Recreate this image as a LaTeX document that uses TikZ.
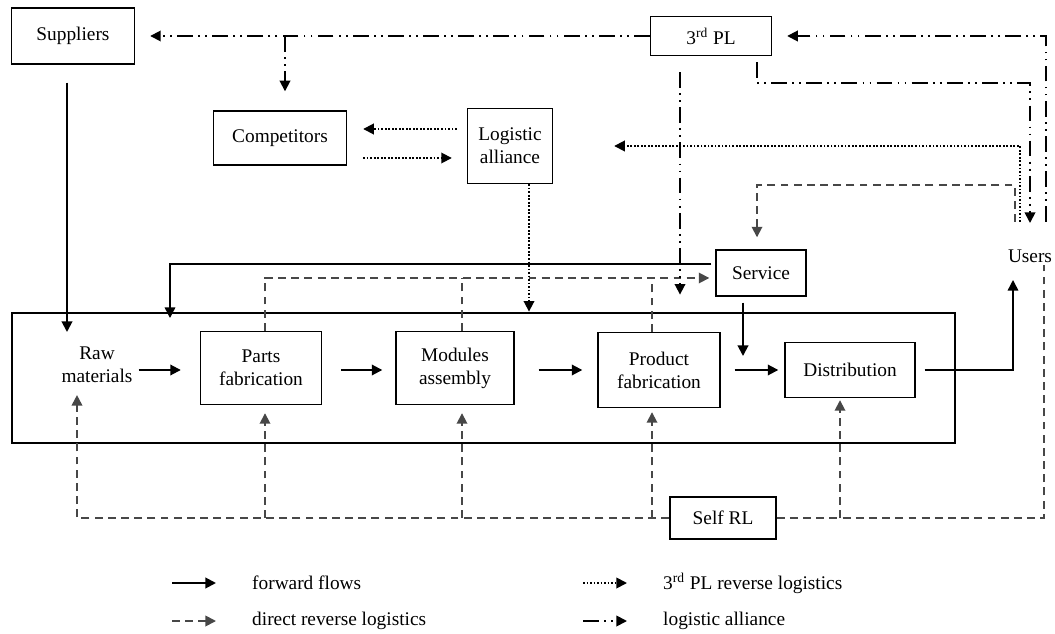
\documentclass[tikz,border=0pt]{standalone}
\usepackage{fontspec}
\setmainfont{Liberation Serif}
\usetikzlibrary{arrows.meta}

\begin{document}
\begin{tikzpicture}[
        font=\fontsize{11}{13}\selectfont,
        blk/.style={draw, rectangle, line width=0.8pt, align=center, inner sep=2pt},
        flow/.style={-{Triangle[length=6pt,width=6pt]}, line width=1.1pt},
        direct/.style={-{Triangle[length=6pt,width=6pt]}, line width=1pt, black!72, dash pattern=on 4.5pt off 3pt},
        tpl/.style={-{Triangle[length=6pt,width=6pt]}, line width=1pt, dash pattern=on 1pt off 1pt},
        alli/.style={-{Triangle[length=6pt,width=6pt]}, line width=1pt, dash pattern=on 9pt off 3pt on 1pt off 3pt on 1pt off 3pt}
    ]
        \useasboundingbox (0,0) rectangle (21.1,-12.68);

        % actors around the chain
        \node[blk, minimum width=2.46cm, minimum height=1.12cm] (suppliers) at (1.46,-0.72) {Suppliers};
        \node[blk, minimum width=2.42cm, minimum height=0.78cm] (tpl) at (14.22,-0.72) {3\textsuperscript{rd} PL};
        \node[blk, minimum width=2.66cm, minimum height=1.08cm] (competitors) at (5.6,-2.76) {Competitors};
        \node[blk, minimum width=1.7cm, minimum height=1.5cm] (alliance) at (10.2,-2.92) {Logistic\\alliance};
        \node[blk, minimum width=1.8cm, minimum height=0.92cm] (service) at (15.22,-5.46) {Service};
        \node (users) at (20.6,-5.12) {Users};

        % internal chain
        \node[draw, line width=1.6pt, minimum width=18.86cm, minimum height=2.6cm] (chain) at (9.67,-7.56) {};
        \node[align=center] (raw) at (1.94,-7.3) {Raw\\materials};
        \node[blk, minimum width=2.42cm, minimum height=1.46cm] (parts) at (5.22,-7.36) {Parts\\fabrication};
        \node[blk, minimum width=2.36cm, minimum height=1.46cm] (modules) at (9.1,-7.36) {Modules\\assembly};
        \node[blk, minimum width=2.44cm, minimum height=1.5cm] (product) at (13.18,-7.4) {Product\\fabrication};
        \node[blk, minimum width=2.6cm, minimum height=1.1cm] (distribution) at (17.0,-7.4) {Distribution};
        \node[blk, minimum width=2.12cm, minimum height=0.84cm] (selfrl) at (14.46,-10.36) {Self RL};

        \coordinate (rawin) at (1.34,-6.64);
        \coordinate (srvin) at (3.4,-6.36);
        \coordinate (dstin) at (14.86,-7.12);
        \coordinate (brk) at (5.7,-0.72);
        \coordinate (dline) at ([yshift=-0.1cm]service.west);

        % forward flows
        \draw[flow, shorten <=0.36cm] (suppliers.south -| rawin) -- (rawin);
        \foreach \src/\dest/\sa/\sb in {raw/parts/0.0cm/0.38cm, parts/modules/0.38cm/0.26cm, modules/product/0.48cm/0.3cm, product/distribution/0.28cm/0.12cm}
            \draw[flow, shorten <=\sa, shorten >=\sb] (\src.east |- product) -- (\dest.west |- product);
        \draw[flow, line width=0.8pt, shorten <=0.18cm] (distribution.east) -| ([shift={(-0.34,-0.48)}]users.center);
        \draw[flow, line width=0.8pt, shorten <=0.08cm] ([yshift=0.18cm]service.west) -| (srvin);
        \draw[flow, shorten <=0.12cm] ([xshift=-0.36cm]service.south) -- (dstin);

        % direct reverse logistics
        \draw[direct, shorten >=0.12cm] ([xshift=0.08cm]parts.north) |- (dline);
        \foreach \blk/\dx in {modules/0.14cm, product/-0.14cm}
            \draw[direct, -] ([xshift=\dx]\blk.north) -- ([xshift=\dx]\blk.north |- dline);
        \draw[direct, shorten >=0.24cm] ([shift={(-0.3,0.68)}]users.center) -- ++(0,0.74) -| ([xshift=-0.08cm]service.north);
        \draw[direct, shorten >=0.12cm] (selfrl.west) -| ([xshift=-0.4cm]raw.south);
        \foreach \blk/\dx/\gap in {parts/0.08cm/0.16cm, modules/0.14cm/0.16cm, product/-0.14cm/0.08cm, distribution/-0.2cm/0.04cm}
            \draw[direct, shorten >=\gap] ([xshift=\dx]\blk.south |- selfrl.west) -- ([xshift=\dx]\blk.south);
        \draw[direct, -] (selfrl.east) -| ([shift={(0.28,-0.18)}]users.center);

        % 3rd PL reverse logistics
        \draw[tpl, shorten >=1.22cm] ([shift={(-0.2,0.68)}]users.center) |- (alliance.east);
        \draw[tpl, shorten <=0.2cm, shorten >=0.32cm] ([yshift=0.34cm]alliance.west) -- ([yshift=0.34cm]alliance.west -| competitors.east);
        \draw[tpl, shorten <=0.32cm, shorten >=0.3cm] ([yshift=-0.24cm]alliance.west -| competitors.east) -- ([yshift=-0.24cm]alliance.west);
        \draw[tpl] ([xshift=0.38cm]alliance.south) -- ([xshift=0.38cm]alliance.south |- chain.north);

        % logistic alliance
        \draw[alli, shorten >=0.3cm] (tpl.west) -- (tpl.west -| suppliers.east);
        \draw[alli, shorten >=0.38cm] (brk) -- (brk |- competitors.north);
        \draw[alli, shorten >=0.3cm] ([shift={(0.32,0.68)}]users.center) |- (tpl.east);
        \draw[alli] ([xshift=0.92cm,yshift=-0.12cm]tpl.south) -- ++(0,-0.42) -| ([yshift=0.66cm]users.center);
        \draw[alli, shorten >=0.34cm] ([xshift=-0.62cm,yshift=-0.32cm]tpl.south) -- ([xshift=-0.62cm]tpl.south |- chain.north);

        % legend
        \node[anchor=west] (lgfwd) at (4.92,-11.66) {forward flows};
        \node[anchor=west] (lgdir) at (4.92,-12.42) {direct reverse logistics};
        \node[anchor=west] (lgtpl) at (13.14,-11.66) {3\textsuperscript{rd} PL reverse logistics};
        \node[anchor=west] (lgalli) at (13.14,-12.42) {logistic alliance};
        \foreach \lg/\sty in {lgfwd/flow, lgdir/direct, lgtpl/tpl, lgalli/alli}
            \draw[\sty] ([xshift=-1.48cm]\lg.west) -- ([xshift=-0.6cm]\lg.west);
    \end{tikzpicture}
\end{document}
